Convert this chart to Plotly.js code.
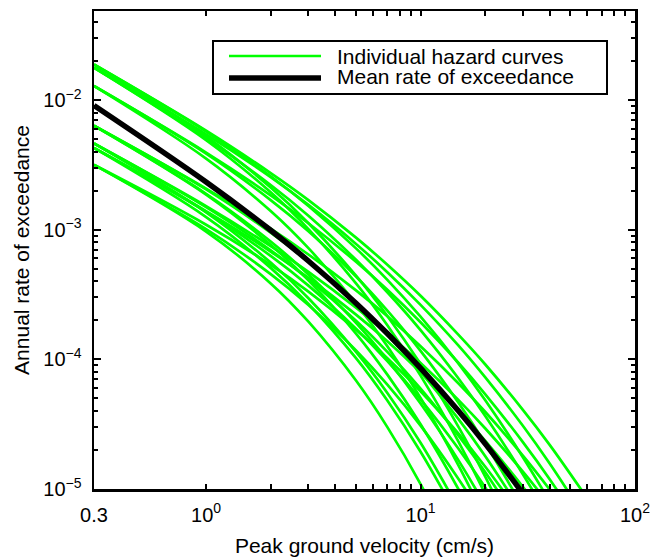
<!DOCTYPE html>
<html><head><meta charset="utf-8">
<script src="https://cdn.plot.ly/plotly-3.0.1.min.js"></script>
<style>html,body{margin:0;padding:0;background:#fff;}#chart{width:658px;height:559px;}</style>
</head><body><div id="chart"></div>
<script>
// Peak ground velocity grid (cm/s)
const pgv = [0.3, 1, 2, 3, 5, 7, 10, 15, 20, 30, 40, 60];

// Mean rate of exceedance
const meanRate = [9.06e-3, 2.33e-3, 9.89e-4, 5.73e-4, 2.71e-4, 1.58e-4, 8.55e-5, 4.01e-5, 2.24e-5, 9.25e-6];

// Individual hazard curves (annual rate of exceedance)
const curve01 = [1.875e-2, 5.79e-3, 2.73e-3, 1.69e-3, 8.67e-4, 5.36e-4, 3.09e-4, 1.55e-4, 9.16e-5, 4.08e-5, 2.19e-5, 8.43e-6];
const curve02 = [1.875e-2, 5.70e-3, 2.58e-3, 1.52e-3, 7.17e-4, 4.10e-4, 2.13e-4, 9.30e-5, 4.85e-5, 1.76e-5, 8.00e-6];
const curve03 = [1.875e-2, 5.23e-3, 2.11e-3, 1.12e-3, 4.41e-4, 2.16e-4, 9.19e-5, 3.03e-5, 1.25e-5, 3.10e-6];
const curve04 = [1.77e-2, 5.43e-3, 2.54e-3, 1.55e-3, 7.76e-4, 4.70e-4, 2.63e-4, 1.28e-4, 7.28e-5, 3.07e-5, 1.57e-5, 5.64e-6];
const curve05 = [1.77e-2, 5.05e-3, 2.21e-3, 1.28e-3, 5.85e-4, 3.29e-4, 1.68e-4, 7.15e-5, 3.67e-5, 1.30e-5, 5.81e-6];
const curve06 = [1.77e-2, 4.89e-3, 1.94e-3, 1.01e-3, 3.85e-4, 1.83e-4, 7.48e-5, 2.33e-5, 9.18e-6, 2.10e-6];
const curve07 = [1.28e-2, 3.93e-3, 1.84e-3, 1.12e-3, 5.65e-4, 3.44e-4, 1.93e-4, 9.42e-5, 5.40e-5, 2.30e-5, 1.19e-5, 4.30e-6];
const curve08 = [1.28e-2, 3.85e-3, 1.69e-3, 9.72e-4, 4.35e-4, 2.37e-4, 1.16e-4, 4.64e-5, 2.25e-5, 7.24e-6];
const curve09 = [1.28e-2, 3.53e-3, 1.39e-3, 7.19e-4, 2.69e-4, 1.26e-4, 5.04e-5, 1.53e-5, 5.88e-6];
const curve10 = [6.32e-3, 2.07e-3, 1.02e-3, 6.43e-4, 3.40e-4, 2.15e-4, 1.26e-4, 6.54e-5, 3.94e-5, 1.81e-5, 9.91e-6, 3.96e-6];
const curve11 = [6.32e-3, 2.04e-3, 9.46e-4, 5.65e-4, 2.69e-4, 1.54e-4, 8.01e-5, 3.47e-5, 1.80e-5, 6.43e-6];
const curve12 = [6.32e-3, 1.89e-3, 8.09e-4, 4.51e-4, 1.91e-4, 9.94e-5, 4.56e-5, 1.67e-5, 7.48e-6];
const curve13 = [6.32e-3, 1.86e-3, 7.63e-4, 4.06e-4, 1.58e-4, 7.62e-5, 3.16e-5, 1.00e-5, 3.98e-6];
const curve14 = [4.62e-3, 1.52e-3, 7.45e-4, 4.72e-4, 2.50e-4, 1.58e-4, 9.36e-5, 4.87e-5, 2.94e-5, 1.36e-5, 7.51e-6];
const curve15 = [4.62e-3, 1.49e-3, 6.93e-4, 4.15e-4, 1.98e-4, 1.14e-4, 5.95e-5, 2.59e-5, 1.35e-5, 4.87e-6];
const curve16 = [4.62e-3, 1.36e-3, 5.57e-4, 2.96e-4, 1.14e-4, 5.50e-5, 2.27e-5, 7.13e-6];
const curve17 = [4.26e-3, 1.39e-3, 6.77e-4, 4.24e-4, 2.21e-4, 1.38e-4, 7.95e-5, 4.01e-5, 2.36e-5, 1.04e-5, 5.55e-6];
const curve18 = [4.26e-3, 1.37e-3, 6.27e-4, 3.70e-4, 1.72e-4, 9.70e-5, 4.91e-5, 2.05e-5, 1.03e-5, 3.50e-6];
const curve19 = [4.26e-3, 1.25e-3, 5.07e-4, 2.67e-4, 1.02e-4, 4.81e-5, 1.94e-5, 5.95e-6];
const curve20 = [3.16e-3, 1.09e-3, 5.35e-4, 3.33e-4, 1.69e-4, 1.02e-4, 5.67e-5, 2.68e-5, 1.49e-5, 5.97e-6];
const curve21 = [3.16e-3, 1.01e-3, 4.54e-4, 2.62e-4, 1.17e-4, 6.37e-5, 3.08e-5, 1.20e-5, 5.71e-6];
const curve22 = [3.16e-3, 9.66e-4, 3.85e-4, 1.95e-4, 6.86e-5, 3.00e-5, 1.09e-5, 2.85e-6];

// Axis ticks (x: labelled decades plus unlabelled 2..9 / 20..90 ticks)
const xTickVals = [0.3, 1, 2, 3, 4, 5, 6, 7, 8, 9, 10, 20, 30, 40, 50, 60, 70, 80, 90, 100];
const xTickText = ['0.3', '10<sup>0</sup>', '', '', '', '', '', '', '', '', '10<sup>1</sup>',
                   '', '', '', '', '', '', '', '', '10<sup>2</sup>'];
const yTickVals = [1e-5, 1e-4, 1e-3, 1e-2];
const yTickText = ['10<sup>\u22125</sup>', '10<sup>\u22124</sup>', '10<sup>\u22123</sup>', '10<sup>\u22122</sup>'];

const legendLabels = ['Individual hazard curves', 'Mean rate of exceedance'];

const curves = [curve01, curve02, curve03, curve04, curve05, curve06, curve07, curve08, curve09, curve10, curve11,
                curve12, curve13, curve14, curve15, curve16, curve17, curve18, curve19, curve20, curve21, curve22];

const GREEN = '#00ff00';
const FONT = 'Liberation Sans, Arial, Helvetica, sans-serif';

const traces = curves.map(c => ({
  type: 'scatter', mode: 'lines',
  x: pgv.slice(0, c.length), y: c,
  line: {color: GREEN, width: 2.7, shape: 'spline'},
  showlegend: false, hoverinfo: 'skip'
}));
traces.push({
  type: 'scatter', mode: 'lines',
  x: pgv.slice(0, meanRate.length), y: meanRate,
  line: {color: '#000000', width: 5.5, shape: 'spline'},
  showlegend: false, hoverinfo: 'skip'
});

// plot area in pixels: x 94..635, y 11..489
const L = 94, R = 23, T = 11, B = 70;
const W = 658 - L - R, H = 559 - T - B;
const px = v => (v - L) / W;
const py = v => (559 - B - v) / H;

const axisCommon = {
  type: 'log', tickmode: 'array', ticks: 'inside', tickwidth: 2, tickcolor: '#000',
  showline: true, linewidth: 2.5, linecolor: '#000', mirror: 'ticks',
  showgrid: false, zeroline: false,
  tickfont: {family: FONT, size: 20, color: '#000'}
};

const layout = {
  width: 658, height: 559,
  margin: {l: L, r: R, t: T, b: B},
  paper_bgcolor: '#fff', plot_bgcolor: '#fff',
  font: {family: FONT, color: '#000'},
  showlegend: false,
  xaxis: Object.assign({}, axisCommon, {
    range: [Math.log10(0.3), 2],
    tickvals: xTickVals, ticktext: xTickText, ticklen: 5,
    ticklabelstandoff: 6,
    title: {text: 'Peak ground velocity (cm/s)', font: {family: FONT, size: 21, color: '#000'}, standoff: 14}
  }),
  yaxis: Object.assign({}, axisCommon, {
    range: [-5, Math.log10(0.0485)],
    tickvals: yTickVals, ticktext: yTickText, ticklen: 7,
    ticklabelstandoff: 6,
    minor: {dtick: 'D1', ticks: 'inside', ticklen: 4, tickwidth: 2, tickcolor: '#000', showgrid: false},
    title: {text: 'Annual rate of exceedance', font: {family: FONT, size: 21, color: '#000'}, standoff: 8}
  }),
  shapes: [
    {type: 'rect', xref: 'paper', yref: 'paper', x0: px(213), x1: px(607), y0: py(94), y1: py(41),
     line: {color: '#000', width: 2}, fillcolor: '#fff', layer: 'above'},
    {type: 'line', xref: 'paper', yref: 'paper', x0: px(229), x1: px(321), y0: py(56), y1: py(56),
     line: {color: GREEN, width: 2.7}, layer: 'above'},
    {type: 'line', xref: 'paper', yref: 'paper', x0: px(229), x1: px(321), y0: py(78), y1: py(78),
     line: {color: '#000', width: 5.5}, layer: 'above'}
  ],
  annotations: [
    {xref: 'paper', yref: 'paper', x: px(335), y: py(57), xanchor: 'left', yanchor: 'middle', showarrow: false,
     text: legendLabels[0], font: {family: FONT, size: 21, color: '#000'}},
    {xref: 'paper', yref: 'paper', x: px(335), y: py(77), xanchor: 'left', yanchor: 'middle', showarrow: false,
     text: legendLabels[1], font: {family: FONT, size: 21, color: '#000'}}
  ]
};

Plotly.newPlot('chart', traces, layout, {staticPlot: true, displayModeBar: false});
</script>
</body></html>
